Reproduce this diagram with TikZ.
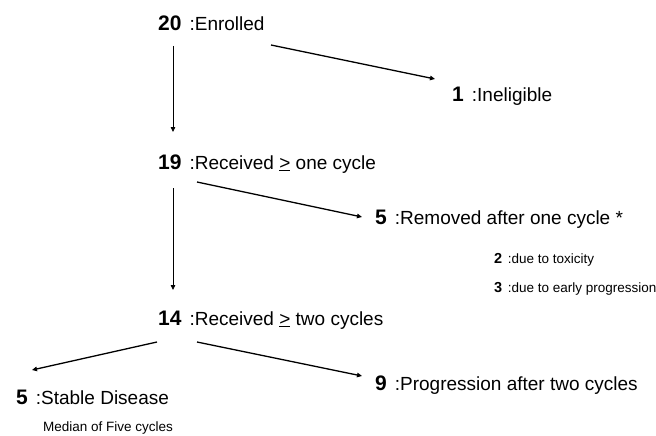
\documentclass[tikz,border=0pt]{standalone}
\usepackage{fontspec}
\setmainfont{Liberation Sans}
\usetikzlibrary{arrows.meta}
\tikzset{
  row/.style={anchor=base west,inner sep=0pt,font=\fontsize{19}{22}\selectfont},
  sub/.style={anchor=base west,inner sep=0pt,font=\fontsize{13.5}{16}\selectfont},
  flow/.style={draw=black,line width=1.3pt,-{Triangle[length=5pt,width=4.5pt]}},
  drop/.style={draw=black,line width=0.8pt,-{Triangle[length=5pt,width=4.5pt]}},
}
\newcommand{\cnt}[1]{{\fontsize{21}{24}\selectfont\bfseries #1}\hspace{8pt}}
\newcommand{\scnt}[1]{{\fontsize{14.5}{16}\selectfont\bfseries #1}\hspace{5.5pt}}

\begin{document}
\begin{tikzpicture}[x=1pt,y=-1pt]
  \useasboundingbox (0,0) rectangle (656,436);
  % main column: enrolled -> one cycle -> two cycles
  \node[row] (enr) at (158,31){\cnt{20}:Enrolled};
  \node[row] (one) at (158,169){\cnt{19}:Received \underline{>} one cycle};
  \node[row] (two) at (158,325){\cnt{14}:Received \underline{>} two cycles};
  % side branches
  \node[row] (inel) at (452,102){\cnt{1}:Ineligible};
  \node[row] (rem) at (375,224){\cnt{5}:Removed after one cycle *};
  \node[sub] (tox) at (494,263){\scnt{2}:due to toxicity};
  \node[sub] (early) at (494,292){\scnt{3}:due to early progression};
  \node[row] (stab) at (16,404){\cnt{5}:Stable Disease};
  \node[sub] (med) at (43,431){Median of Five cycles};
  \node[row] (prog) at (375,390){\cnt{9}:Progression after two cycles};

  \draw[drop] ([shift={(15,15)}]enr.base west) -- ([shift={(15,-37)}]one.base west);
  \draw[drop] ([shift={(15,19)}]one.base west) -- ([shift={(15,-35)}]two.base west);
  \draw[flow] ([shift={(113,14)}]enr.base west) -- ([shift={(-17,-23)}]inel.base west);
  \draw[flow] ([shift={(39,13)}]one.base west) -- ([shift={(-13,-7)}]rem.base west);
  \draw[flow] ([shift={(-1,17)}]two.base west) -- ([shift={(16,-34)}]stab.base west);
  \draw[flow] ([shift={(39,17)}]two.base west) -- ([shift={(-13,-14)}]prog.base west);
\end{tikzpicture}
\end{document}
